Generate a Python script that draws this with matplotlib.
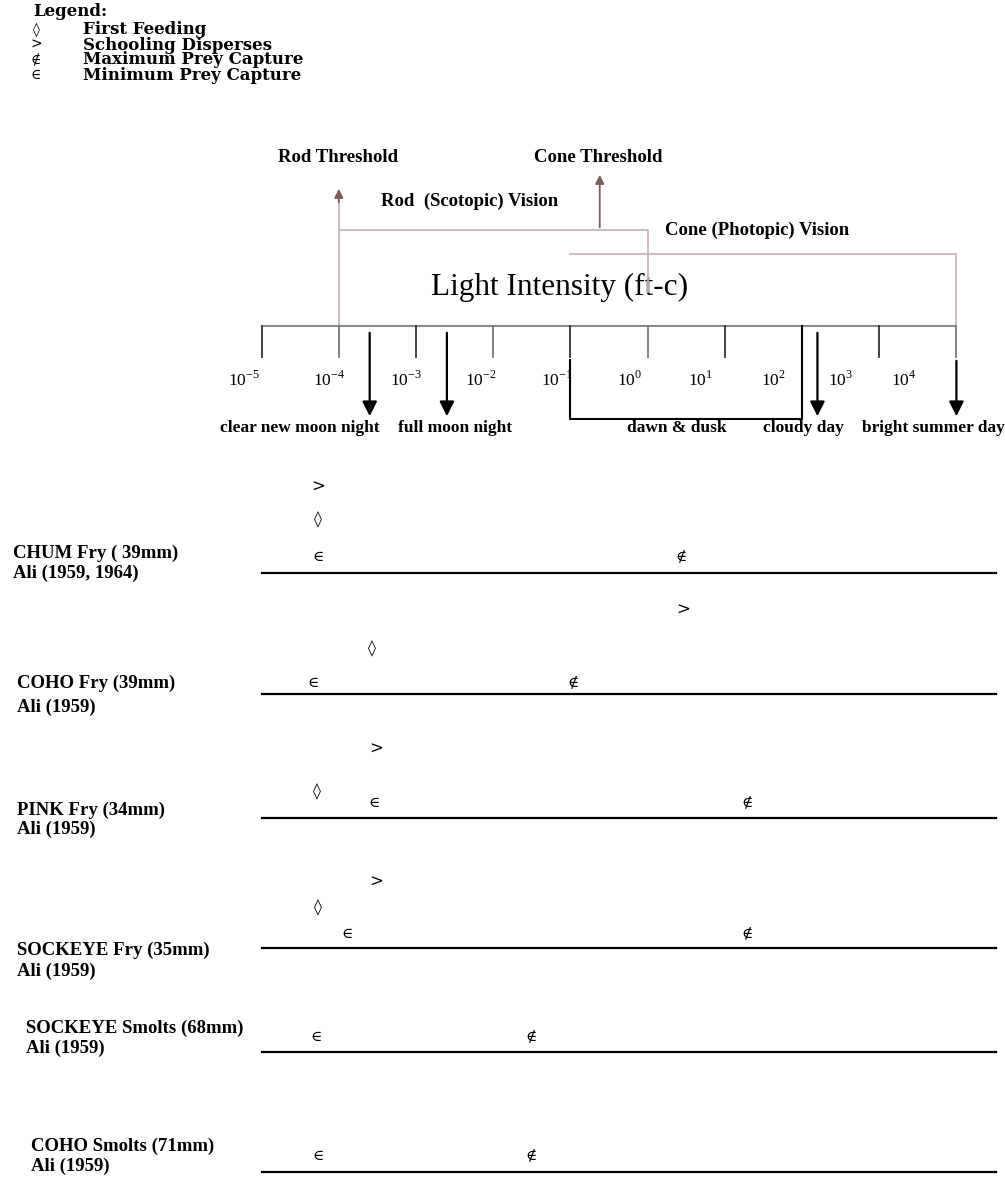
import matplotlib
matplotlib.use('Agg')
import matplotlib.pyplot as plt

plt.rcParams['font.family'] = ['Liberation Serif', 'DejaVu Serif']
plt.rcParams['mathtext.fontset'] = 'custom'
plt.rcParams['mathtext.rm'] = 'Liberation Serif'

# ---- data (x values are log10 of light intensity, ft-c) ----
decades = list(range(-5, 5))
conditions = ["clear new moon night", "full moon night", "cloudy day", "bright summer day"]
condition_levels = [-3.6, -2.6, 2.2, 4.0]
dawn_dusk = (-1.0, 2.0)
rod_threshold = -4.0
cone_threshold = -0.62
rod_vision = (-4.0, 0.0)
cone_vision = (-1.0, 4.0)

species = ["CHUM Fry ( 39mm)", "COHO Fry (39mm)", "PINK Fry (34mm)",
           "SOCKEYE Fry (35mm)", "SOCKEYE Smolts (68mm)", "COHO Smolts (71mm)"]
refs = ["Ali (1959, 1964)", "Ali (1959)", "Ali (1959)", "Ali (1959)", "Ali (1959)", "Ali (1959)"]
first_feeding = [-4.27, -3.57, -4.29, -4.27, None, None]
school_disperse = [-4.27, 0.46, -3.51, -3.51, None, None]
max_capture = [0.43, -0.97, 1.29, 1.29, -1.51, -1.51]
min_capture = [-4.27, -4.33, -3.54, -3.90, -4.29, -4.27]

# ---- layout (pixels) ----
W, H = 1005, 1179
X0, PER_DEC = 261.6, 77.2       # pixel of 10^-5, pixels per decade
AXIS_Y = 326
row_line_y = [573, 694, 818, 948, 1052, 1172]
row_capture_dy = [-16, -11, -15, -14, -15, -16]
row_feed_dy = [-53, -45, -26, -40, 0, 0]
row_school_dy = [-86, -84, -69, -66, 0, 0]
row_label_x = [13, 17, 17, 17, 26, 31]
row_label_dy = [(-20, 0), (-11, 13), (-8, 11), (2, 23), (-24, -4), (-26, -6)]
tick_label_shift = [-18, -10, -10, -12, -13, -18, -24, -29, -39, -53]
cond_label_x = [300, 455, 677, 803, 933]

fig = plt.figure(figsize=(W / 100, H / 100), dpi=100)
lay = fig.add_axes([0, 0, 1, 1])
lay.set_xlim(0, W)
lay.set_ylim(H, 0)
lay.axis('off')
ax = fig.add_axes([0, 0, 1, 1])
ax.set_xlim(-5 - X0 / PER_DEC, -5 + (W - X0) / PER_DEC)
ax.set_ylim(H, 0)
ax.axis('off')
ax.patch.set_alpha(0)

sym = dict(family=['DejaVu Serif'], ha='center', va='center')
pink = '#c9b6b6'
brown = '#7d5c5c'

# legend
lay.text(33, 12, "Legend:", fontsize=12, fontweight='bold', family=['DejaVu Serif'],
         va='center')
leg = [("\u25CA", "First Feeding"), (">", "Schooling Disperses"),
       ("\u2209", "Maximum Prey Capture"), ("\u2208", "Minimum Prey Capture")]
for i, (s, t) in enumerate(leg):
    y = 30 + i * 15
    lay.text(36, y, s, fontsize=10, **sym)
    lay.text(83, y, t, fontsize=12, fontweight='bold', family=['DejaVu Serif'], va='center')

# vision ranges and thresholds
ax.plot([rod_vision[0], rod_vision[1], rod_vision[1]], [230, 230, 292], color=pink, lw=1.3)
ax.plot([cone_vision[0], cone_vision[1], cone_vision[1]], [254, 254, AXIS_Y], color=pink, lw=1.3)
ax.plot([rod_threshold, rod_threshold], [AXIS_Y, 200], color=pink, lw=1.3)
ax.annotate('', xy=(rod_threshold, 186), xytext=(rod_threshold, 205),
            arrowprops=dict(arrowstyle='-|>', color=brown, lw=1.3, mutation_scale=13))
ax.annotate('', xy=(cone_threshold, 172), xytext=(cone_threshold, 230),
            arrowprops=dict(arrowstyle='-|>', color=brown, lw=1.3, mutation_scale=13))
lay.text(338, 158, "Rod Threshold", fontsize=13.5, fontweight='bold', ha='center', va='center')
lay.text(598, 157, "Cone Threshold", fontsize=13.5, fontweight='bold', ha='center', va='center')
lay.text(381, 201, "Rod  (Scotopic) Vision", fontsize=13.5, fontweight='bold', va='center')
lay.text(665, 230, "Cone (Photopic) Vision", fontsize=13.5, fontweight='bold', va='center')
lay.text(431, 287, "Light Intensity (ft-c)", fontsize=22.5, va='center')

# axis
ax.plot([decades[0], decades[-1]], [AXIS_Y, AXIS_Y], color='#8a8a8a', lw=1.5)
for i, e in enumerate(decades):
    ax.plot([e, e], [AXIS_Y, 357], color='#333333' if i % 2 == 0 else '#777777', lw=1.3)
    ax.text(e + tick_label_shift[i] / PER_DEC, 380, r'$10^{%d}$' % e, fontsize=12.5,
            ha='center', va='center')

# light conditions
for lvl in condition_levels:
    start = 358 if lvl >= decades[-1] else 330
    ax.annotate('', xy=(lvl, 419), xytext=(lvl, start),
                arrowprops=dict(arrowstyle='-|>', color='black', lw=1.6, mutation_scale=22))
ax.plot([dawn_dusk[0], dawn_dusk[0], dawn_dusk[1], dawn_dusk[1]], [360, 419, 419, AXIS_Y],
        color='black', lw=1.5)
cond_names = [conditions[0], conditions[1], "dawn & dusk", conditions[2], conditions[3]]
for x, t in zip(cond_label_x, cond_names):
    lay.text(x, 428, t, fontsize=12.5, fontweight='bold', ha='center', va='center')

# species rows
line_end = -5 + (996 - X0) / PER_DEC
for i, name in enumerate(species):
    ly = row_line_y[i]
    ax.plot([-5, line_end], [ly, ly], color='black', lw=1.6)
    lay.text(row_label_x[i], ly + row_label_dy[i][0], name, fontsize=13.5,
             fontweight='bold', va='center')
    lay.text(row_label_x[i], ly + row_label_dy[i][1], refs[i], fontsize=13.5,
             fontweight='bold', va='center')
    cy = ly + row_capture_dy[i]
    ax.text(min_capture[i], cy, "\u2208", fontsize=11, **sym)
    ax.text(max_capture[i], cy, "\u2209", fontsize=11, **sym)
    if first_feeding[i] is not None:
        ax.text(first_feeding[i], ly + row_feed_dy[i], "\u25CA", fontsize=11.5, **sym)
    if school_disperse[i] is not None:
        ax.text(school_disperse[i], ly + row_school_dy[i], ">", fontsize=12, **sym)

fig.savefig('out.png', dpi=100)
